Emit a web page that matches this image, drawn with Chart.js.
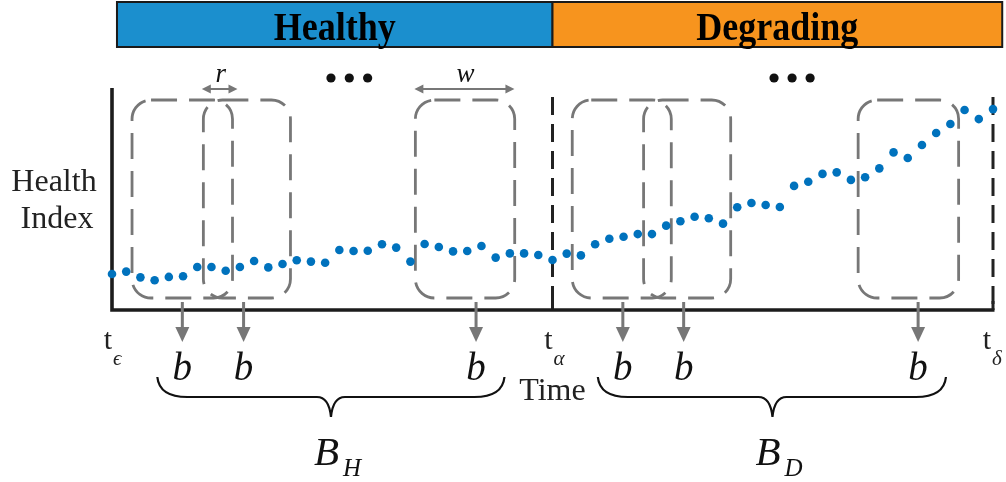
<!DOCTYPE html>
<html>
<head>
<meta charset="utf-8">
<script src="https://cdn.jsdelivr.net/npm/chart.js@4.4.1/dist/chart.umd.min.js"></script>
<style>
  body { margin: 0; background: #fff; }
  #chart { display: block; }
</style>
</head>
<body>
<canvas id="chart" width="1006" height="482"></canvas>
<script>
// health index samples, one per time step
const healthIndex = [
  16.2, 17.3, 14.7, 13.4, 14.9, 15.2, 19.4, 19.4, 17.7, 19.4,
  22.1, 19.2, 20.7, 22.4, 21.8, 21.3, 27.0, 26.6, 26.7, 29.6,
  28.1, 21.8, 29.7, 28.4, 26.4, 26.6, 28.8, 23.6, 25.5, 25.5,
  24.8, 22.5, 25.4, 24.6, 29.6, 32.1, 33.0, 34.2, 34.2, 38.0,
  40.0, 42.0, 41.3, 38.9, 46.3, 48.2, 47.3, 46.4, 55.9, 57.8,
  61.3, 62.0, 58.6, 59.8, 63.8, 71.0, 68.5, 74.3, 79.7, 83.8,
  90.1, 86.0, 90.5
];

// sliding windows [start, end] in time steps
const windowStarts = [1.41, 6.43, 21.35, 32.39, 37.41, 52.51];
const windowEnds   = [8.48, 12.56, 28.34, 39.36, 43.54, 59.58];
const windowTop = 94.6;
const windowBottom = 5.4;

// where each window feeds a "b"
const arrowX = [4.95, 9.26, 25.62, 35.95, 40.23, 56.73];

// phase markers
const tEps = 0;
const tAlpha = 31;
const tDelta = 62;
const phaseStart = 0.35;
const phaseEnd = 62.65;
const phaseLabels = ['Healthy', 'Degrading'];
const phaseColors = ['#1b8fce', '#f7941e'];

// braces [start, tip, end] and their labels
const braces = [[3.19, 15.41, 27.62], [34.19, 46.48, 58.69]];
const braceLabels = [['B', 'H'], ['B', 'D']];

// r and w span markers
const rSpan = [6.32, 8.83];
const wSpan = [21.28, 28.32];
const dotsLeft = [15.41, 16.70, 17.99];
const dotsRight = [46.59, 47.86, 49.13];

const GRAY = '#777777';
const INK = '#222222';

function arrowHead(ctx, x, y, dir, len, half) {
    // dir: 'down', 'left', 'right'
    ctx.beginPath();
    if (dir === 'down') {
        ctx.moveTo(x, y);
        ctx.lineTo(x - half, y - len);
        ctx.lineTo(x + half, y - len);
    } else if (dir === 'left') {
        ctx.moveTo(x, y);
        ctx.lineTo(x + len, y - half);
        ctx.lineTo(x + len, y + half);
    } else {
        ctx.moveTo(x, y);
        ctx.lineTo(x - len, y - half);
        ctx.lineTo(x - len, y + half);
    }
    ctx.closePath();
    ctx.fill();
}

function drawBrace(ctx, x1, xm, x2, top) {
    const mid = top + 20;
    const tip = top + 40;
    ctx.beginPath();
    ctx.moveTo(x1, top);
    ctx.quadraticCurveTo(x1 + 2, mid, x1 + 30, mid);
    ctx.lineTo(xm - 14, mid);
    ctx.quadraticCurveTo(xm - 2, mid, xm, tip);
    ctx.moveTo(x2, top);
    ctx.quadraticCurveTo(x2 - 2, mid, x2 - 30, mid);
    ctx.lineTo(xm + 14, mid);
    ctx.quadraticCurveTo(xm + 2, mid, xm, tip);
    ctx.stroke();
}

const diagramPlugin = {
    id: 'diagram',
    beforeDatasetsDraw(chart) {
        const ctx = chart.ctx;
        const x = chart.scales.x;
        const y = chart.scales.y;
        const area = chart.chartArea;
        ctx.save();

        // sliding windows
        ctx.strokeStyle = GRAY;
        ctx.lineWidth = 2.8;
        ctx.setLineDash([26, 12]);
        for (let i = 0; i < windowStarts.length; i++) {
            const l = x.getPixelForValue(windowStarts[i]);
            const r = x.getPixelForValue(windowEnds[i]);
            const t = y.getPixelForValue(windowTop);
            const b = y.getPixelForValue(windowBottom);
            ctx.beginPath();
            ctx.roundRect(l, t, r - l, b - t, 19);
            ctx.stroke();
        }

        // phase boundaries
        ctx.strokeStyle = INK;
        ctx.lineWidth = 3;
        ctx.setLineDash([18, 9]);
        [tAlpha, tDelta].forEach(v => {
            const px = x.getPixelForValue(v);
            ctx.beginPath();
            ctx.moveTo(px, area.top + 9);
            ctx.lineTo(px, area.bottom);
            ctx.stroke();
        });
        ctx.setLineDash([]);
        [tAlpha, tDelta].forEach(v => {
            const px = x.getPixelForValue(v);
            ctx.beginPath();
            ctx.moveTo(px, area.bottom - 9);
            ctx.lineTo(px, area.bottom);
            ctx.stroke();
        });

        // axes
        ctx.strokeStyle = '#1c1c1c';
        ctx.lineWidth = 3.6;
        ctx.beginPath();
        ctx.moveTo(area.left, area.top);
        ctx.lineTo(area.left, area.bottom);
        ctx.lineTo(x.getPixelForValue(tDelta) + 1.5, area.bottom);
        ctx.stroke();
        ctx.restore();
    },
    afterDatasetsDraw(chart) {
        const ctx = chart.ctx;
        const x = chart.scales.x;
        const area = chart.chartArea;
        const base = area.bottom;
        ctx.save();

        // arrows down to b
        ctx.strokeStyle = GRAY;
        ctx.fillStyle = GRAY;
        ctx.lineWidth = 3;
        ctx.font = 'italic 39px "Liberation Serif"';
        ctx.textAlign = 'center';
        arrowX.forEach(v => {
            const px = x.getPixelForValue(v);
            ctx.fillStyle = GRAY;
            ctx.beginPath();
            ctx.moveTo(px, base - 8);
            ctx.lineTo(px, base + 20);
            ctx.stroke();
            arrowHead(ctx, px, base + 32, 'down', 15, 7);
            ctx.fillStyle = '#111';
            ctx.fillText('b', px, base + 70);
        });

        // time markers
        ctx.fillStyle = INK;
        const marks = [[tEps, '\u03f5', -4], [tAlpha, '\u03b1', -4], [tDelta, '\u03b4', -6]];
        marks.forEach(m => {
            const px = x.getPixelForValue(m[0]) + m[2];
            ctx.textAlign = 'center';
            ctx.font = '30px "Liberation Serif"';
            ctx.fillText('t', px, base + 39);
            ctx.textAlign = 'left';
            ctx.font = 'italic 21px "Liberation Serif"';
            ctx.fillText(m[1], px + 5, base + 55);
        });

        ctx.font = '32px "Liberation Serif"';
        ctx.textAlign = 'center';
        ctx.fillText('Time', x.getPixelForValue(tAlpha), base + 90);

        // braces
        ctx.strokeStyle = '#111';
        ctx.lineWidth = 2.2;
        braces.forEach((br, i) => {
            const x1 = x.getPixelForValue(br[0]);
            const xm = x.getPixelForValue(br[1]);
            const x2 = x.getPixelForValue(br[2]);
            drawBrace(ctx, x1, xm, x2, base + 67);
            ctx.fillStyle = '#111';
            ctx.textAlign = 'left';
            ctx.font = 'italic 41px "Liberation Serif"';
            ctx.fillText(braceLabels[i][0], xm - 17, base + 155);
            ctx.font = 'italic 25px "Liberation Serif"';
            ctx.fillText(braceLabels[i][1], xm + 12, base + 166);
        });

        // y label
        ctx.fillStyle = INK;
        ctx.textAlign = 'center';
        ctx.font = '32px "Liberation Serif"';
        ctx.fillText('Health', 54, 191);
        ctx.fillText('Index', 57, 228);

        // r and w spans
        ctx.strokeStyle = GRAY;
        ctx.fillStyle = GRAY;
        ctx.lineWidth = 2;
        [rSpan, wSpan].forEach((s, i) => {
            const a = x.getPixelForValue(s[0]);
            const b = x.getPixelForValue(s[1]);
            const yy = area.top + 1;
            ctx.beginPath();
            ctx.moveTo(a + 4, yy);
            ctx.lineTo(b - 4, yy);
            ctx.stroke();
            arrowHead(ctx, a, yy, 'left', 9, 4.5);
            arrowHead(ctx, b, yy, 'right', 9, 4.5);
            ctx.fillStyle = '#111';
            ctx.textAlign = 'center';
            ctx.font = 'italic 27px "Liberation Serif"';
            ctx.fillText(i === 0 ? 'r' : 'w', (a + b) / 2 + 1, area.top - 6);
            ctx.fillStyle = GRAY;
        });

        // ellipsis dots
        ctx.fillStyle = '#111';
        dotsLeft.concat(dotsRight).forEach(v => {
            ctx.beginPath();
            ctx.arc(x.getPixelForValue(v), area.top - 10, 4.6, 0, Math.PI * 2);
            ctx.fill();
        });

        // phase bar
        const edges = [phaseStart, tAlpha, phaseEnd];
        for (let i = 0; i < 2; i++) {
            const l = x.getPixelForValue(edges[i]);
            const r = x.getPixelForValue(edges[i + 1]);
            ctx.fillStyle = phaseColors[i];
            ctx.fillRect(l, 2, r - l, 45);
            ctx.strokeStyle = '#1a1a1a';
            ctx.lineWidth = 2;
            ctx.strokeRect(l, 2, r - l, 45);
            ctx.save();
            ctx.fillStyle = '#000';
            ctx.font = 'bold 40px "Liberation Serif"';
            ctx.textAlign = 'center';
            ctx.translate((l + r) / 2, 40);
            ctx.scale(0.9, 1);
            ctx.fillText(phaseLabels[i], 0, 0);
            ctx.restore();
        }
        ctx.restore();
    }
};

new Chart(document.getElementById('chart'), {
    type: 'scatter',
    data: {
        datasets: [{
            data: healthIndex.map((v, i) => ({ x: i, y: v })),
            backgroundColor: '#0072bd',
            borderWidth: 0,
            pointRadius: 4.3,
            clip: false
        }]
    },
    options: {
        responsive: false,
        animation: false,
        layout: { padding: { left: 112, right: 13, top: 88, bottom: 172 } },
        scales: {
            x: { type: 'linear', min: 0, max: 62, display: false },
            y: { min: 0, max: 100, display: false }
        },
        plugins: {
            legend: { display: false },
            tooltip: { enabled: false }
        }
    },
    plugins: [diagramPlugin]
});
</script>
</body>
</html>
